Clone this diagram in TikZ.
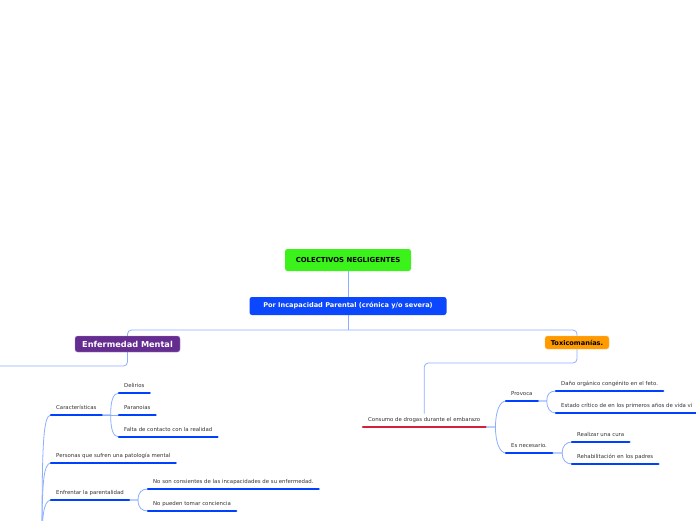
\documentclass[tikz,border=0pt]{standalone}
\usepackage{fontspec}
\setmainfont{DejaVu Sans}
\usetikzlibrary{positioning,backgrounds}

\definecolor{mapgreen}{HTML}{3BF21B}
\definecolor{mapblue}{HTML}{0A47FF}
\definecolor{mappurple}{HTML}{662D91}
\definecolor{maporange}{HTML}{FF9A00}
\definecolor{linkblue}{HTML}{8CAEFF}
\definecolor{lineblue}{HTML}{0040FF}
\definecolor{linered}{HTML}{D3203B}
\definecolor{textgray}{HTML}{333333}

\begin{document}
\begin{tikzpicture}
  [x=1pt,y=-1pt,
  link/.style={draw=linkblue,line width=.8pt},
  box node/.style={rounded corners=2.5pt,inner sep=0pt,font=\bfseries\fontsize{6.6}{7.5}\selectfont},
  leaf node/.style={anchor=south west,inner xsep=5pt,inner ysep=4pt,text height=4pt,text depth=1pt,
    text=textgray,font=\fontsize{5.4}{6}\selectfont,
    append after command={(\tikzlastnode.south west) edge[draw=#1,line width=2.5pt,line cap=round] (\tikzlastnode.south east)}},
  leaf node/.default=lineblue]
  \useasboundingbox (0,0) rectangle (696,520);
  \clip (0,0) rectangle (696,520);

  % central topics
  \node[box node,fill=mapgreen,minimum width=126pt,minimum height=22pt,
    font=\bfseries\fontsize{6.9}{8}\selectfont] (title) at (348,260) {COLECTIVOS NEGLIGENTES};
  \node[box node,fill=mapblue,text=white!88!yellow,minimum width=197pt,minimum height=18pt] (por) at (348,306) {Por Incapacidad Parental (crónica y/o severa)};
  \node[box node,fill=mappurple,draw=mappurple!55,text=white,minimum width=105pt,minimum height=16pt,
    font=\bfseries\fontsize{8.2}{9}\selectfont] (em) at (127.5,344) {Enfermedad Mental};
  \node[box node,fill=maporange,draw=maporange!60,minimum width=64pt,minimum height=13pt] (tox) at (577,342.5) {Toxicomanías.};

  % left branch
  \node[leaf node] (char) at (51,415) {Características};
  \node[leaf node] (del) at (119,393) {Delirios};
  \node[leaf node] (par) at (119,415) {Paranoias};
  \node[leaf node] (fal) at (119,437) {Falta de contacto con la realidad};
  \node[leaf node] (pers) at (51,463) {Personas que sufren una patología mental};
  \node[leaf node] (enf) at (51,500) {Enfrentar la parentalidad};
  \node[leaf node] (nos) at (148,489) {No son consientes de las incapacidades de su enfermedad.};
  \node[leaf node] (nop) at (148,511) {No pueden tomar conciencia};

  % right branch
  \node[leaf node=linered] (cons) at (363,427) {Consumo de drogas durante el embarazo};
  \node[leaf node] (prov) at (506,401) {Provoca};
  \node[leaf node] (esn) at (506,453) {Es necesario.};
  \node[leaf node] (dano) at (556,391) {Daño orgánico congénito en el feto.};
  \node[leaf node] (est) at (556,413) {Estado crítico de en los primeros años de vida vi};
  \node[leaf node] (real) at (572,442) {Realizar una cura};
  \node[leaf node] (reh) at (572,464) {Rehabilitación en los padres};

  \coordinate (split) at (348,330);
  \coordinate (offleft) at (-10,366);
  \coordinate (hub) at (42,545);

  \begin{scope}[on background layer]
    \clip (0,0) rectangle (696,520);
    \draw[link] (title) -- (por);
    \draw[link] (por) -- (split);
    \draw[link,rounded corners=4pt] (split) -| (em.center) |- (offleft);
    \draw[link,rounded corners=4pt] (split) -| (tox.center) -- (tox.center |- 0,363) -| (cons.north);

    \draw[link] (hub) .. controls +(0,-100) and +(-8,0) .. (char.south west);
    \draw[link] (hub) .. controls +(0,-60) and +(-8,0) .. (pers.south west);
    \draw[link] (hub) .. controls +(0,-25) and +(-8,0) .. (enf.south west);

    \draw[link] (char.south east) -- ++(9,0) .. controls +(0,-14) and +(-6,0) .. (del.south west);
    \draw[link] (char.south east) -- (par.south west);
    \draw[link] (char.south east) -- ++(9,0) .. controls +(0,14) and +(-6,0) .. (fal.south west);
    \draw[link] (enf.south east) -- ++(9,0) .. controls +(0,-8) and +(-6,0) .. (nos.south west);
    \draw[link] (enf.south east) -- ++(9,0) .. controls +(0,8) and +(-6,0) .. (nop.south west);

    \draw[link] (cons.south east) -- ++(10,0) .. controls +(0,-16) and +(-6,0) .. (prov.south west);
    \draw[link] (cons.south east) -- ++(10,0) .. controls +(0,16) and +(-6,0) .. (esn.south west);
    \draw[link] (prov.south east) -- ++(9,0) .. controls +(0,-7) and +(-6,0) .. (dano.south west);
    \draw[link] (prov.south east) -- ++(9,0) .. controls +(0,7) and +(-6,0) .. (est.south west);
    \draw[link] (esn.south east) -- ++(10,0) .. controls +(0,-7) and +(-6,0) .. (real.south west);
    \draw[link] (esn.south east) -- ++(10,0) .. controls +(0,7) and +(-6,0) .. (reh.south west);
  \end{scope}
\end{tikzpicture}
\end{document}
